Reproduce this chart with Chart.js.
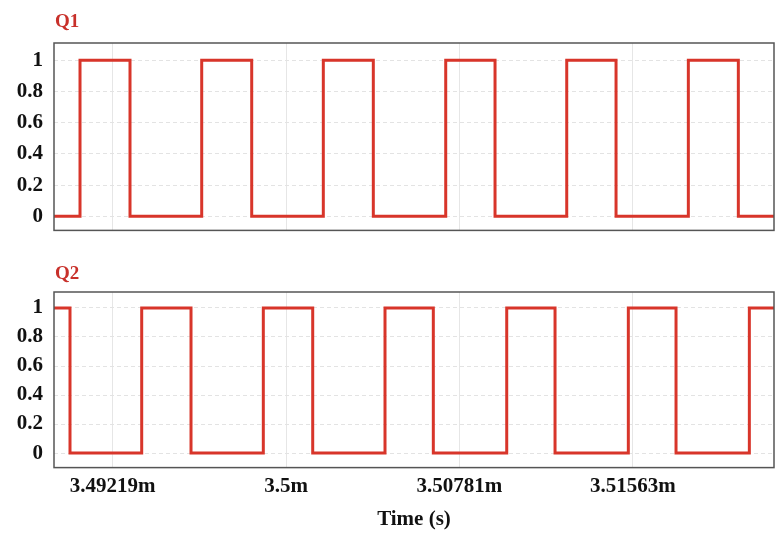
<!DOCTYPE html>
<html>
<head>
<meta charset="utf-8">
<script src="https://cdn.jsdelivr.net/npm/chart.js@4"></script>
<style>
  body { margin: 0; background: #fff; }
  .box { position: absolute; left: 0; width: 775px; }
  #top { top: 0; height: 254px; }
  #bottom { top: 240px; height: 293px; }
</style>
</head>
<body>
<div class="box" id="top"><canvas id="q1Chart"></canvas></div>
<div class="box" id="bottom"><canvas id="q2Chart"></canvas></div>
<script>
// time in ms, each point = moment the level switches to the given value
const xMin = 3.489545
const xMax = 3.521990
const q1Times = [xMin, 3.490717, 3.492970, 3.496201, 3.498454, 3.501681, 3.503934, 3.507197, 3.509419, 3.512650, 3.514872, 3.518130, 3.520383, xMax]
const q1Levels = [0, 1, 0, 1, 0, 1, 0, 1, 0, 1, 0, 1, 0, 0]
const q2Times = [xMin, 3.490266, 3.493497, 3.495719, 3.498977, 3.501203, 3.504461, 3.506638, 3.509946, 3.512123, 3.515426, 3.517575, 3.520879, xMax]
const q2Levels = [1, 0, 1, 0, 1, 0, 1, 0, 1, 0, 1, 0, 1, 1]
const xTicks = [3.4921875, 3.5, 3.5078125, 3.515625]
const xTickLabels = ["3.49219m", "3.5m", "3.50781m", "3.51563m"]
const yTicks = [0, 0.2, 0.4, 0.6, 0.8, 1]
const yTickLabels = ["0", "0.2", "0.4", "0.6", "0.8", "1"]

const serif = "'Liberation Serif', 'Times New Roman', serif"
const red = "#d8352a"

// frame + "Q1"/"Q2" label drawn relative to the plot area
const framePlugin = {
  id: "frame",
  afterDraw(chart, args, opts) {
    const { ctx, chartArea } = chart
    ctx.save()
    ctx.strokeStyle = "#555"
    ctx.lineWidth = 1.5
    ctx.strokeRect(chartArea.left, chartArea.top, chartArea.right - chartArea.left, chartArea.bottom - chartArea.top)
    ctx.fillStyle = "#c8302a"
    ctx.font = "bold 19px " + serif
    ctx.textBaseline = "middle"
    ctx.textAlign = "left"
    ctx.fillText(opts.label, chartArea.left + 1, chartArea.top - opts.gap)
    ctx.restore()
  }
}

function makeChart(id, times, levels, label, showX, yMin, padding, gap) {
  const ctx = document.getElementById(id).getContext("2d")
  return new Chart(ctx, {
    type: "line",
    data: {
      datasets: [{
        data: times.map((t, i) => ({ x: t, y: levels[i] })),
        borderColor: red,
        borderWidth: 3,
        pointRadius: 0,
        stepped: true,
        fill: false
      }]
    },
    options: {
      responsive: true,
      maintainAspectRatio: false,
      animation: false,
      layout: { padding: padding },
      plugins: {
        legend: { display: false },
        tooltip: { enabled: false },
        frame: { label: label, gap: gap }
      },
      scales: {
        x: {
          type: "linear",
          min: xMin,
          max: xMax,
          afterBuildTicks: (scale) => { scale.ticks = xTicks.map(v => ({ value: v })) },
          grid: { color: "#e6e6e6", drawTicks: false },
          border: { display: false },
          ticks: {
            display: showX,
            padding: 6,
            maxRotation: 0,
            color: "#111",
            font: { family: serif, size: 21, weight: "bold" },
            callback: (v) => xTickLabels[xTicks.indexOf(v)]
          },
          title: {
            display: showX,
            text: "Time (s)",
            color: "#111",
            padding: { top: 2, bottom: 0 },
            font: { family: serif, size: 21, weight: "bold" }
          }
        },
        y: {
          min: yMin,
          max: 1.11,
          afterBuildTicks: (scale) => { scale.ticks = yTicks.map(v => ({ value: v })) },
          afterFit: (scale) => { scale.width = 54 },
          grid: { color: "#e3e3e3", drawTicks: false },
          border: { display: false, dash: [4, 3] },
          ticks: {
            padding: 11,
            color: "#111",
            font: { family: serif, size: 21, weight: "bold" },
            callback: (v) => yTickLabels[yTicks.indexOf(v)]
          }
        }
      }
    },
    plugins: [framePlugin]
  })
}

makeChart("q1Chart", q1Times, q1Levels, "Q1", false, -0.09, { top: 43, right: 1, bottom: 10, left: 0 }, 21)
makeChart("q2Chart", q2Times, q2Levels, "Q2", true, -0.1, { top: 52, right: 1, bottom: 1, left: 0 }, 18)
</script>
</body>
</html>
